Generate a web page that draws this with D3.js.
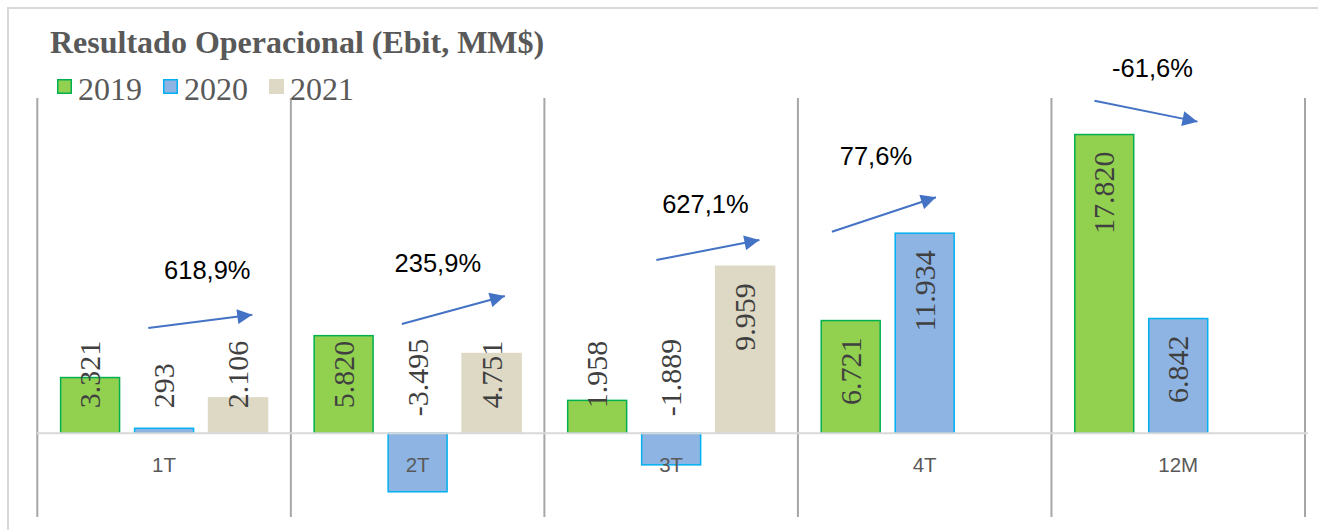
<!DOCTYPE html>
<html lang="pt">

<head>
   <meta charset="UTF-8">
   <title>Resultado Operacional (Ebit, MM$)</title>
   <script src="https://d3js.org/d3.v7.min.js"></script>
   <style>
      body { margin: 0; background: #fff; }
   </style>
</head>

<body>
   <script>
      // data
      const categories = ['1T', '2T', '3T', '4T', '12M'];
      const seriesNames = ['2019', '2020', '2021'];
      const values2019 = [3321, 5820, 1958, 6721, 17820];
      const values2020 = [293, -3495, -1889, 11934, 6842];
      const values2021 = [2106, 4751, 9959, null, null]; // no 4T / 12M yet
      const growthLabels = ['618,9%', '235,9%', '627,1%', '77,6%', '-61,6%'];
      const valueDomain = [-5000, 20000];

      // annotation layout (x offsets from category start, y in value units)
      const arrowLayout = [
         { x0: 111, y0: 6280, x1: 215, y1: 7070, tx: 170, ty: 9230 },
         { x0: 111, y0: 6520, x1: 214, y1: 8190, tx: 147, ty: 9640 },
         { x0: 112, y0: 10330, x1: 215, y1: 11530, tx: 161, ty: 13140 },
         { x0: 34, y0: 12020, x1: 138, y1: 14080, tx: 78, ty: 16000 },
         { x0: 43, y0: 19840, x1: 146, y1: 18590, tx: 101, ty: 21270 }
      ];

      const SERIF = "'Liberation Serif', 'Times New Roman', serif";
      const SANS = "'Liberation Sans', Arial, sans-serif";
      const fills = ['#92D050', '#8EB4E3', '#DDD9C4'];
      const strokes = ['#00B050', '#00B0F0', '#DDD9C4'];
      const allValues = [values2019, values2020, values2021];

      const width = 1318;
      const height = 530;

      const svg = d3.select('body').append('svg').attr('width', width).attr('height', height);

      // outer frame (runs off the right/bottom edge in the picture)
      svg.append('rect').attr('x', 8).attr('y', 8).attr('width', 1330).attr('height', 540)
         .attr('fill', 'none').attr('stroke', '#D9D9D9').attr('stroke-width', 2);

      const x = d3.scaleBand().domain(categories).range([37.3, 1305]).padding(0);
      const xs = d3.scaleBand().domain(seriesNames).range([0, x.bandwidth()])
         .paddingInner(0.203).paddingOuter(0.315);
      const y = d3.scaleLinear().domain(valueDomain).range([517, 98]);
      const zeroY = y(0);

      // vertical separators between categories
      const seps = d3.range(categories.length + 1).map(i => i === categories.length ? x.range()[1] : x(categories[i]));
      svg.append('g').selectAll('line').data(seps).join('line')
         .attr('x1', d => d).attr('x2', d => d)
         .attr('y1', y(valueDomain[1])).attr('y2', y(valueDomain[0]))
         .attr('stroke', '#A6A6A6').attr('stroke-width', 2);

      // flat table for bars
      const table = [];
      seriesNames.forEach((s, si) => {
         categories.forEach((c, ci) => {
            const v = allValues[si][ci];
            if (v !== null) table.push({ s, si, c, v });
         });
      });

      svg.append('g').selectAll('rect').data(table).join('rect')
         .attr('x', d => x(d.c) + xs(d.s))
         .attr('y', d => y(Math.max(0, d.v)))
         .attr('width', xs.bandwidth())
         .attr('height', d => Math.abs(y(d.v) - zeroY))
         .attr('fill', d => fills[d.si])
         .attr('stroke', d => strokes[d.si])
         .attr('stroke-width', 1.5);

      // zero line
      svg.append('line').attr('x1', 37).attr('x2', 1308).attr('y1', zeroY).attr('y2', zeroY)
         .attr('stroke', '#D9D9D9').attr('stroke-width', 2);

      // category labels
      svg.append('g').selectAll('text').data(categories).join('text')
         .style('font-family', SANS)
         .attr('x', d => x(d) + x.bandwidth() / 2)
         .attr('y', 472)
         .attr('text-anchor', 'middle')
         .attr('font-size', 20.5)
         .attr('fill', '#595959')
         .text(d => d);

      // rotated value labels
      const fmt = v => d3.format(',')(v).replace(/,/g, '.').replace('−', '-');
      const labels = svg.append('g').selectAll('text').data(table).join('text')
         .style('font-family', SERIF)
         .attr('font-size', 30)
         .attr('fill', '#404040')
         .text(d => fmt(d.v));

      labels.attr('transform', function (d) {
         const len = this.getComputedTextLength();
         const cx = x(d.c) + xs(d.s) + xs.bandwidth() / 2 + 10;
         const bottom = d.v >= 0 ? Math.min(zeroY - 25, y(d.v) + 17 + len) : zeroY - 17;
         return `translate(${cx},${bottom}) rotate(-90)`;
      });

      // growth arrows
      const defs = svg.append('defs');
      defs.append('marker').attr('id', 'head')
         .attr('viewBox', '0 0 10 10').attr('refX', 10).attr('refY', 5)
         .attr('markerWidth', 8).attr('markerHeight', 7.5).attr('markerUnits', 'strokeWidth')
         .attr('orient', 'auto')
         .append('path').attr('d', 'M0,0 L10,5 L0,10 Z').attr('fill', '#4472C4');

      svg.append('g').selectAll('line').data(arrowLayout).join('line')
         .attr('x1', (d, i) => x(categories[i]) + d.x0)
         .attr('y1', d => y(d.y0))
         .attr('x2', (d, i) => x(categories[i]) + d.x1)
         .attr('y2', d => y(d.y1))
         .attr('stroke', '#4472C4').attr('stroke-width', 2)
         .attr('marker-end', 'url(#head)');

      svg.append('g').selectAll('text').data(arrowLayout).join('text')
         .style('font-family', SANS)
         .attr('x', (d, i) => x(categories[i]) + d.tx)
         .attr('y', d => y(d.ty))
         .attr('text-anchor', 'middle')
         .attr('font-size', 25.5)
         .attr('fill', '#000')
         .text((d, i) => growthLabels[i]);

      // title
      svg.append('text').style('font-family', SERIF).attr('x', 50).attr('y', 52.5)
         .attr('font-weight', 'bold').attr('font-size', 32)
         .attr('fill', '#595959')
         .text('Resultado Operacional (Ebit, MM$)');

      // legend
      const legend = svg.append('g').selectAll('g').data(seriesNames).join('g')
         .attr('transform', (d, i) => `translate(${57 + i * 106},79)`);
      legend.append('rect').attr('x', 0.75).attr('y', 0.75).attr('width', 13.5).attr('height', 13.5)
         .attr('fill', (d, i) => fills[i]).attr('stroke', (d, i) => strokes[i]).attr('stroke-width', 1.5);
      legend.append('text').style('font-family', SERIF).attr('x', 21).attr('y', 21)
         .attr('font-size', 32)
         .attr('fill', '#595959')
         .text(d => d);
   </script>
</body>

</html>
